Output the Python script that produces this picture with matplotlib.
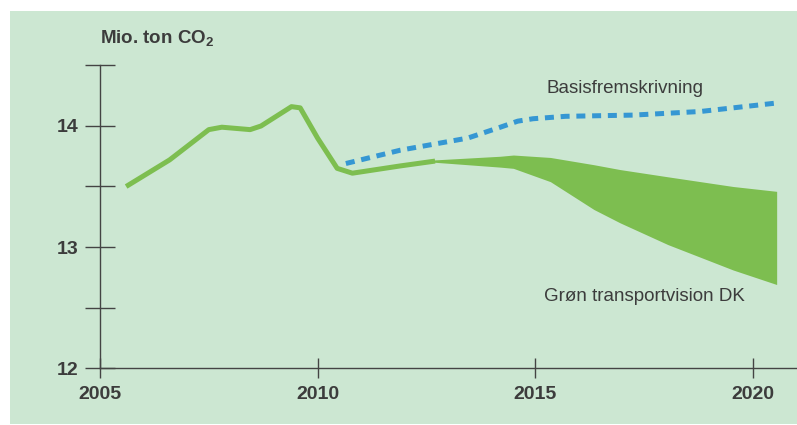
import numpy as np
import matplotlib
matplotlib.use('Agg')
import matplotlib.pyplot as plt
from matplotlib.patches import Rectangle

plt.rcParams['font.family'] = ['Liberation Sans', 'DejaVu Sans']
plt.rcParams['mathtext.default'] = 'regular'

# historisk udvikling
hist_years = [2005.6, 2006.6, 2007.5, 2007.8, 2008.45, 2008.7, 2009.4, 2009.6, 2010.0, 2010.45, 2010.8, 2011.9, 2012.7]
hist_vals = [13.50, 13.72, 13.97, 13.99, 13.97, 14.00, 14.16, 14.15, 13.90, 13.65, 13.61, 13.67, 13.71]

# basisfremskrivning
base_years = [2010.65, 2011.9, 2013.45, 2014.2, 2014.6, 2014.95, 2015.7, 2017.25, 2018.8, 2020.55]
base_vals = [13.69, 13.80, 13.90, 13.99, 14.04, 14.06, 14.08, 14.09, 14.12, 14.19]

# groen transportvision (bånd)
band_years = [2011.9, 2012.7, 2014.2, 2014.5, 2015.35, 2016.35, 2016.95, 2018.05, 2019.55, 2020.55]
band_upper = [13.67, 13.72, 13.75, 13.76, 13.74, 13.68, 13.64, 13.58, 13.50, 13.46]
band_lower = [13.67, 13.70, 13.66, 13.65, 13.54, 13.31, 13.20, 13.02, 12.81, 12.69]

x_ticks = [2005, 2010, 2015, 2020]
y_ticks = [12, 12.5, 13, 13.5, 14, 14.5]
y_labels = ['12', '', '13', '', '14', '']

bg = '#cce7d2'
green = '#7dbe50'
blue = '#3597d3'
txt = '#3c3c3c'

fig = plt.figure(figsize=(7.97, 4.25), dpi=100, facecolor='white')
fig.patches.append(Rectangle((10 / 797, 1 / 425), 1, 1 - 12 / 425,
                             transform=fig.transFigure, facecolor=bg,
                             edgecolor='none', zorder=-10))

ax = fig.add_axes([0.1255, 0.1341, 0.879, 0.7118])
ax.set_facecolor('none')

ax.fill_between(band_years, band_lower, band_upper, color=green, linewidth=0)
ax.plot(hist_years, hist_vals, color=green, linewidth=3.6,
        solid_capstyle='butt', solid_joinstyle='round')
ax.plot(base_years, base_vals, color=blue, linewidth=3.6,
        dashes=(1.8, 1.35), dash_capstyle='butt')

ax.set_xlim(2005, 2021.1)
ax.set_ylim(12, 14.5)
ax.set_xticks(x_ticks)
ax.set_xticklabels([str(v) for v in x_ticks])
ax.set_yticks(y_ticks)
ax.set_yticklabels(y_labels)

for s in ['top', 'right']:
    ax.spines[s].set_visible(False)
for s in ['left', 'bottom']:
    ax.spines[s].set_color('#444444')
    ax.spines[s].set_linewidth(1.0)
ax.spines['bottom'].set_clip_on(False)

ax.tick_params(axis='y', direction='inout', length=21.6, width=1.0,
               color='#444444', pad=5, labelsize=14, labelcolor=txt)
ax.tick_params(axis='x', direction='inout', length=13.7, width=1.0,
               color='#444444', pad=6, labelsize=14, labelcolor=txt)
for lab in ax.get_xticklabels() + ax.get_yticklabels():
    lab.set_fontweight('bold')

ax.text(0, 1.09, 'Mio. ton CO$_2$', transform=ax.transAxes, fontsize=13.5,
        fontweight='bold', color=txt, ha='left', va='center')
ax.text(2015.25, 14.31, 'Basisfremskrivning', fontsize=13.5, color=txt,
        ha='left', va='center')
ax.text(2015.2, 12.595, 'Grøn transportvision DK', fontsize=13.5, color=txt,
        ha='left', va='center')

fig.savefig('out.png', dpi=100, facecolor='white')
